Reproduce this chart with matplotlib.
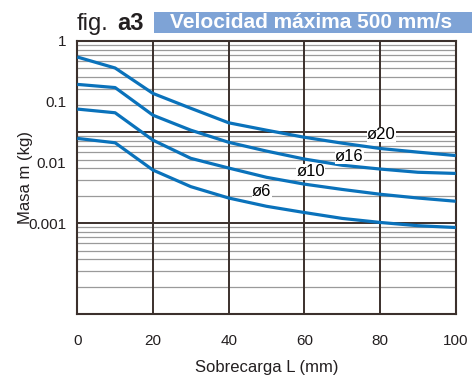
import numpy as np
import matplotlib
matplotlib.use("Agg")
import matplotlib.pyplot as plt
from matplotlib.patches import Rectangle

plt.rcParams["font.family"] = ["Liberation Sans", "DejaVu Sans"]

# Sobrecarga L (mm)
overhang = [0, 10, 20, 30, 40, 50, 60, 70, 80, 90, 100]

# Masa m (kg) por diámetro
mass_d20 = [0.545, 0.359, 0.137, 0.078, 0.045, 0.034, 0.026, 0.0208, 0.0170, 0.0148, 0.0130]
mass_d16 = [0.193, 0.171, 0.060, 0.034, 0.0215, 0.0154, 0.0114, 0.0090, 0.0078, 0.0069, 0.0066]
mass_d10 = [0.0757, 0.0658, 0.0233, 0.0117, 0.0081, 0.0057, 0.0044, 0.0036, 0.0030, 0.0026, 0.0023]
mass_d6 = [0.0249, 0.0211, 0.0075, 0.0040, 0.0026, 0.0019, 0.0015, 0.0012, 0.00103, 0.00091, 0.00085]

series_labels = ["ø20", "ø16", "ø10", "ø6"]
label_x = [80.4, 71.9, 61.7, 48.7]
label_y = [0.029, 0.0127, 0.0070, 0.0033]

x_ticks = [0, 20, 40, 60, 80, 100]
y_ticks = [1, 0.1, 0.01, 0.001]
y_ticklabels = ["1", "0.1", "0.01", "0.001"]

Y_MIN = 10 ** -4.5
LINE_BLUE = "#0a72bb"
DARK = "#3b302c"

fig = plt.figure(figsize=(4.73, 3.76), dpi=100)
ax = fig.add_axes([0.1634, 0.164, 0.80, 0.727])

ax.set_yscale("log")
ax.set_xlim(0, 100)
ax.set_ylim(Y_MIN, 1)

# grid: each printed grid "decade" spans 1.5 label decades
for k in range(3):
    low = 10 ** (-1.5 * (k + 1))
    for m in range(2, 10):
        ax.axhline(low * m ** 1.5, color="#9a9a9a", lw=0.9, zorder=1)
    if k < 2:
        ax.axhline(low, color=DARK, lw=1.4, zorder=2)
for xv in x_ticks[1:-1]:
    ax.axvline(xv, color=DARK, lw=1.4, zorder=2)

for vals in [mass_d20, mass_d16, mass_d10, mass_d6]:
    ax.plot(overhang, vals, color=LINE_BLUE, lw=2.3, zorder=3,
            solid_capstyle="butt")

for txt, lx, ly in zip(series_labels, label_x, label_y):
    ax.text(lx, ly, txt, fontsize=12, ha="center", va="center", zorder=4,
            bbox=dict(facecolor="white", edgecolor="none", pad=0.2))

ax.set_xticks(x_ticks)
ax.set_yticks(y_ticks)
ax.set_yticklabels(y_ticklabels)
ax.yaxis.set_minor_locator(matplotlib.ticker.NullLocator())
ax.tick_params(axis="x", length=0, pad=14, labelsize=11, colors="#231f20")
ax.tick_params(axis="y", length=0, pad=8, labelsize=11, colors="#231f20")

for sp in ax.spines.values():
    sp.set_color(DARK)
    sp.set_linewidth(1.5)

ax.set_xlabel("Sobrecarga L (mm)", fontsize=12, color="#231f20", labelpad=9)
ax.set_ylabel("Masa m (kg)", fontsize=12, color="#231f20")
ax.yaxis.set_label_coords(-0.117, 0.5)

# header
fig.text(77 / 473, 1 - 30 / 376, "fig.", fontsize=17, ha="left", va="baseline", color="#231f20")
fig.text(117 / 473, 1 - 30 / 376, "a3", fontsize=17, fontweight="bold", ha="left",
         va="baseline", color="#231f20")
fig.patches.append(Rectangle((154 / 473, 1 - 33.3 / 376), (471.7 - 154) / 473, 21.6 / 376,
                             transform=fig.transFigure, facecolor="#7ea3d6",
                             edgecolor="none"))
fig.text(311 / 473, 1 - 22.5 / 376, "Velocidad máxima 500 mm/s", fontsize=15,
         fontweight="bold", color="white", ha="center", va="center")

fig.savefig("out.png", dpi=100)
